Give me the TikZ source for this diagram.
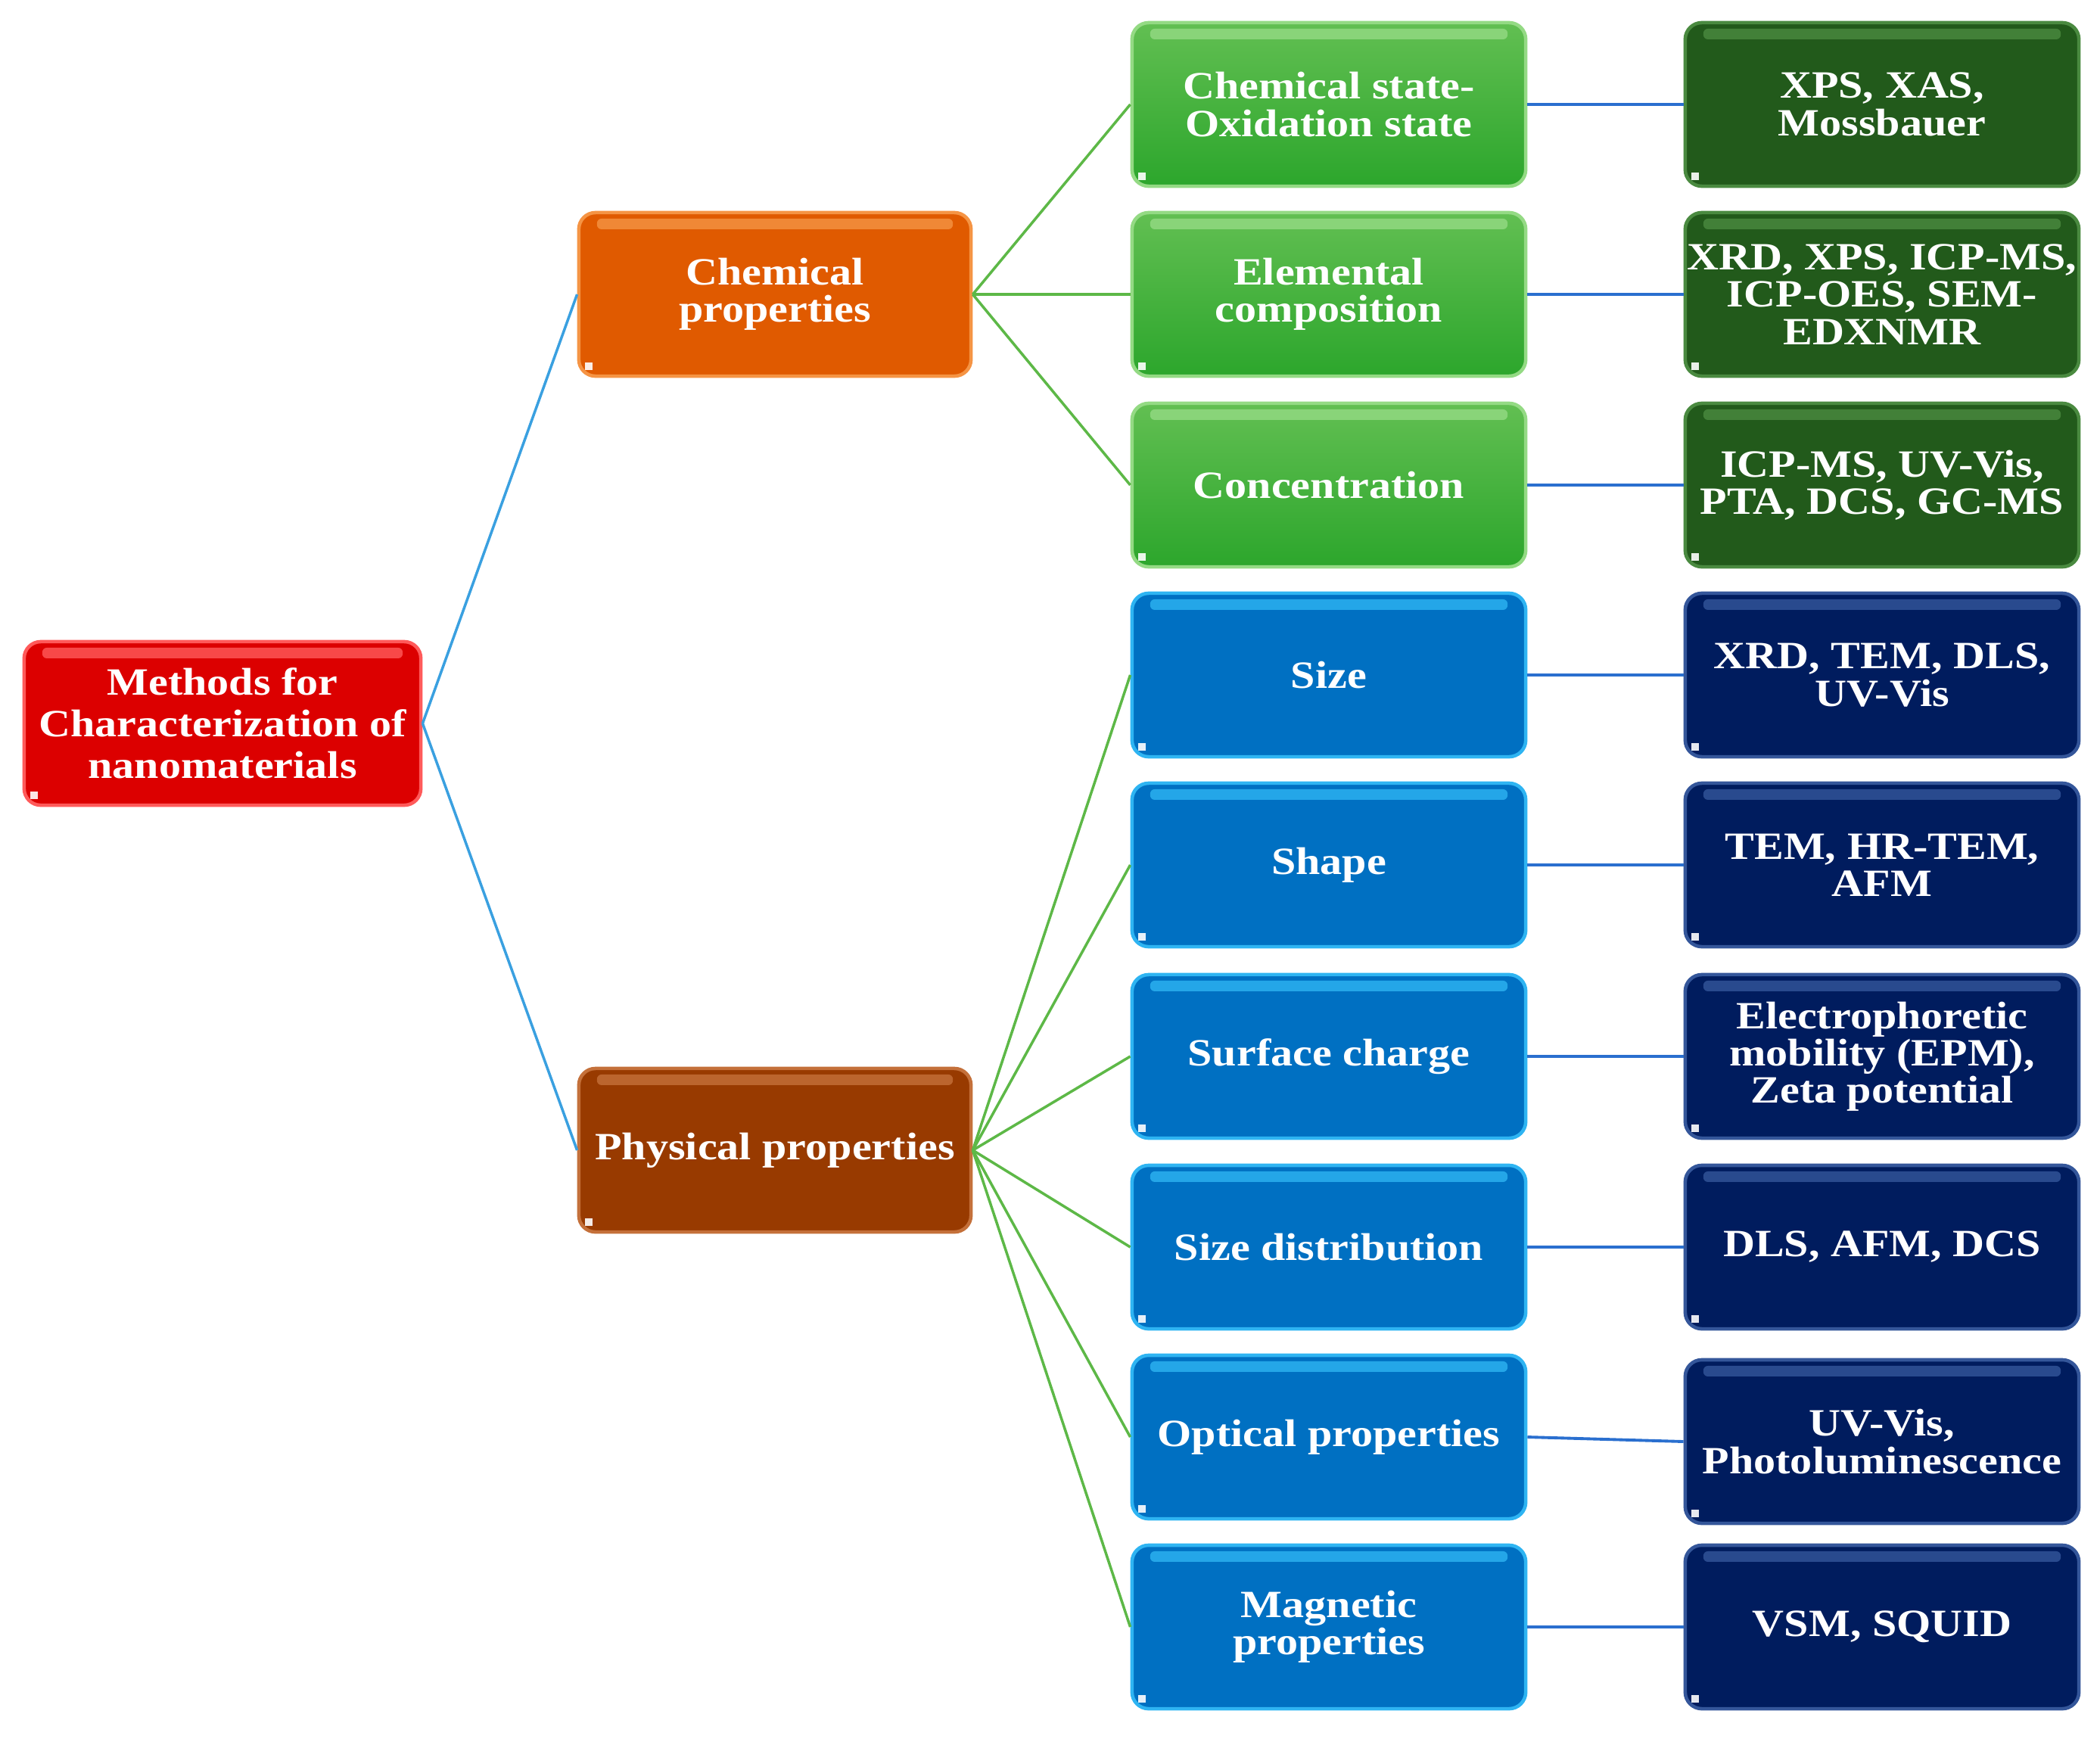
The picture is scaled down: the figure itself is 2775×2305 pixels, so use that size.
\documentclass[tikz,border=0pt]{standalone}
\usepackage{fontspec}
\newfontfamily\boxfont{Liberation Serif}[FakeStretch=1.14]
\definecolor{rootfill}{HTML}{DC0000}
\definecolor{rootedge}{HTML}{FF5A5A}
\definecolor{chemfill}{HTML}{E05A00}
\definecolor{chemedge}{HTML}{F59444}
\definecolor{physfill}{HTML}{983A00}
\definecolor{physedge}{HTML}{C4703A}
\definecolor{greentop}{HTML}{62BF52}
\definecolor{greenbot}{HTML}{2CA62C}
\definecolor{greenedge}{HTML}{94DA84}
\definecolor{dgfill}{HTML}{225A1B}
\definecolor{dgedge}{HTML}{4A8A40}
\definecolor{bluefill}{HTML}{0070C2}
\definecolor{blueedge}{HTML}{2EB4F2}
\definecolor{navyfill}{HTML}{001C5E}
\definecolor{navyedge}{HTML}{34569A}
\definecolor{linkroot}{HTML}{3AA0E0}
\definecolor{linkgreen}{HTML}{5DB847}
\definecolor{linkblue}{HTML}{2A6FCF}
\tikzset{
  gloss/.style={
    path picture={
      \fill[#1, opacity=0.8, rounded corners=0.06cm]
        ([xshift=0.24cm,yshift=-0.08cm]path picture bounding box.north west)
        rectangle ([xshift=-0.24cm,yshift=-0.22cm]path picture bounding box.north east);
      \fill[white, opacity=0.9, sharp corners]
        ([xshift=0.08cm,yshift=0.08cm]path picture bounding box.south west)
        rectangle ++(0.1cm,0.1cm);
    }},
  boxbase/.style={rounded corners=0.22cm, line width=1.3pt, minimum height=2.16cm,
    inner sep=0pt, align=center, text=white,
    font=\boxfont\bfseries\fontsize{14.5pt}{14pt}\selectfont},
  rootbox/.style={boxbase, fill=rootfill, draw=rootedge, gloss=rootedge, minimum width=5.24cm,
    font=\boxfont\bfseries\fontsize{14.5pt}{15.6pt}\selectfont},
  chembox/.style={boxbase, fill=chemfill, draw=chemedge, gloss=chemedge, minimum width=5.18cm},
  physbox/.style={boxbase, fill=physfill, draw=physedge, gloss=physedge, minimum width=5.18cm},
  greenbox/.style={boxbase, top color=greentop, bottom color=greenbot, draw=greenedge, gloss=greenedge, minimum width=5.2cm},
  dgbox/.style={boxbase, fill=dgfill, draw=dgedge, gloss=dgedge, minimum width=5.2cm},
  bluebox/.style={boxbase, fill=bluefill, draw=blueedge, gloss=blueedge, minimum width=5.2cm},
  navybox/.style={boxbase, fill=navyfill, draw=navyedge, gloss=navyedge, minimum width=5.2cm},
  rootlink/.style={draw=linkroot, line width=1pt},
  greenlink/.style={draw=linkgreen, line width=1pt},
  bluelink/.style={draw=linkblue, line width=1.1pt},
}
\begin{document}
\begin{tikzpicture}[x=0.01cm,y=-0.01cm]
\useasboundingbox (0,0) rectangle (2775,2305);
% root and second level
\node[rootbox] (root) at (294,956) {Methods for\\Characterization of\\nanomaterials};
\node[chembox] (chem) at (1024,389) {Chemical\\properties};
\node[physbox] (phys) at (1024,1520) {Physical properties};
% middle column
\node[greenbox] (m1) at (1756,138) {Chemical state-\\Oxidation state};
\node[greenbox] (m2) at (1756,389) {Elemental\\composition};
\node[greenbox] (m3) at (1756,641) {Concentration};
\node[bluebox] (m4) at (1756,892) {Size};
\node[bluebox] (m5) at (1756,1143) {Shape};
\node[bluebox] (m6) at (1756,1396) {Surface charge};
\node[bluebox] (m7) at (1756,1648) {Size distribution};
\node[bluebox] (m8) at (1756,1899) {Optical properties};
\node[bluebox] (m9) at (1756,2150) {Magnetic\\properties};
% right column
\node[dgbox] (r1) at (2487,138) {XPS, XAS,\\Mossbauer};
\node[dgbox] (r2) at (2487,389) {XRD, XPS, ICP-MS,\\ICP-OES, SEM-\\EDXNMR};
\node[dgbox] (r3) at (2487,641) {ICP-MS, UV-Vis,\\PTA, DCS, GC-MS};
\node[navybox] (r4) at (2487,892) {XRD, TEM, DLS,\\UV-Vis};
\node[navybox] (r5) at (2487,1143) {TEM, HR-TEM,\\AFM};
\node[navybox] (r6) at (2487,1396) {Electrophoretic\\mobility (EPM),\\Zeta potential};
\node[navybox] (r7) at (2487,1648) {DLS, AFM, DCS};
\node[navybox] (r8) at (2487,1905) {UV-Vis,\\Photoluminescence};
\node[navybox] (r9) at (2487,2150) {VSM, SQUID};
% connectors
\draw[rootlink] (root.east) -- (chem.west);
\draw[rootlink] (root.east) -- (phys.west);
\foreach \m in {m1,m2,m3} \draw[greenlink] (chem.east) -- (\m.west);
\foreach \m in {m4,m5,m6,m7,m8,m9} \draw[greenlink] (phys.east) -- (\m.west);
\foreach \i in {1,...,9} \draw[bluelink] (m\i.east) -- (r\i.west);
\end{tikzpicture}
\end{document}
